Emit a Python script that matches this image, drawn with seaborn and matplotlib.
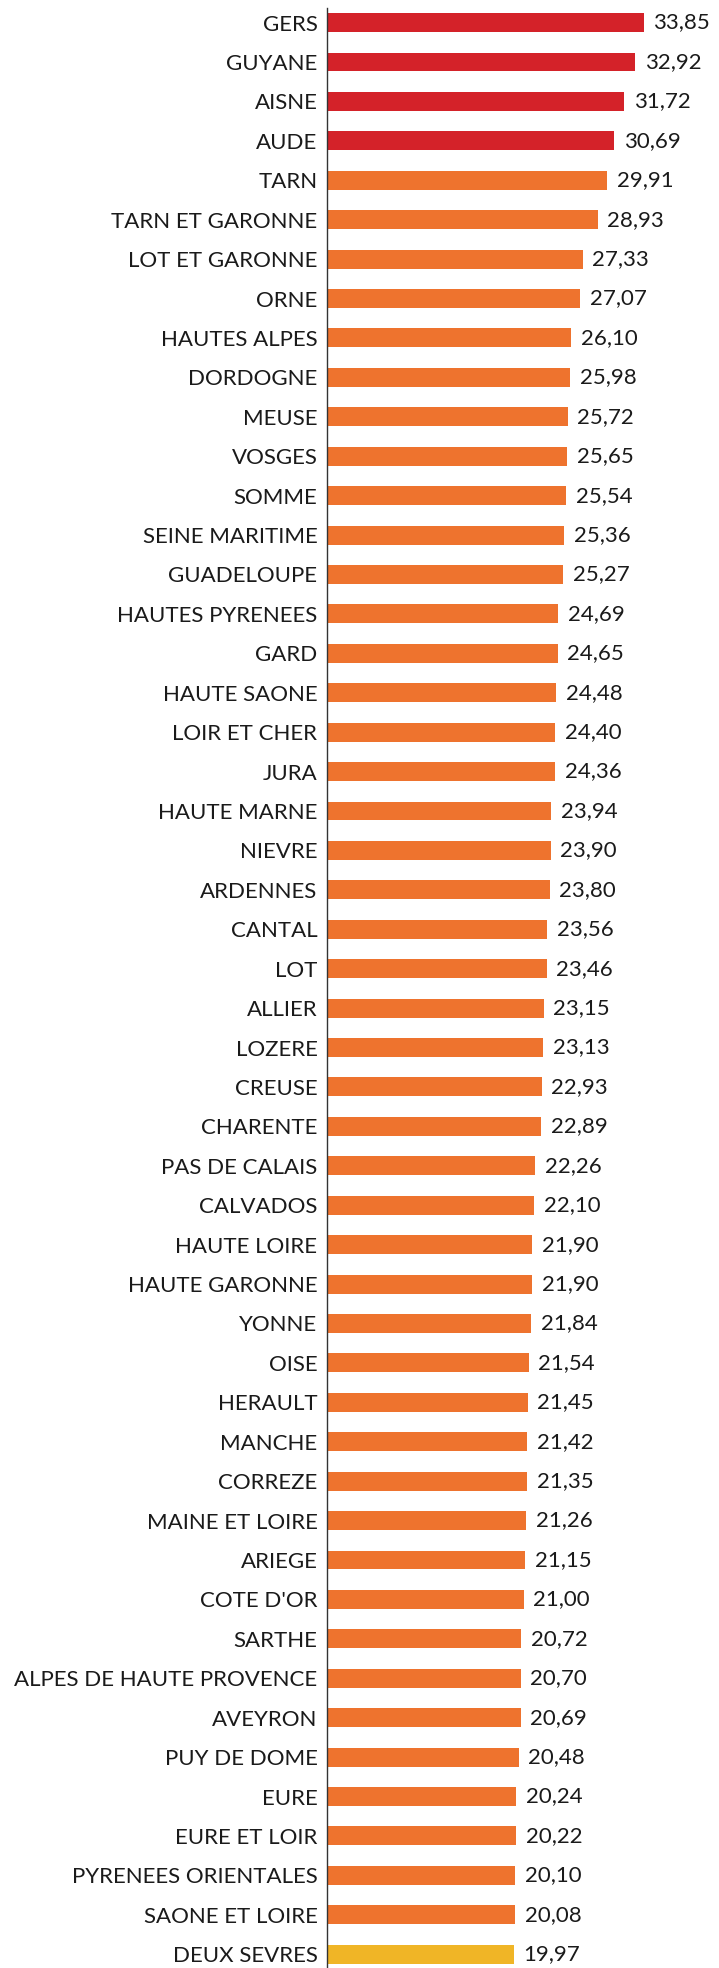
import pandas as pd
import seaborn as sns
import matplotlib.pyplot as plt

departements = ['GERS', 'GUYANE', 'AISNE', 'AUDE', 'TARN', 'TARN ET GARONNE',
                'LOT ET GARONNE', 'ORNE', 'HAUTES ALPES', 'DORDOGNE', 'MEUSE',
                'VOSGES', 'SOMME', 'SEINE MARITIME', 'GUADELOUPE', 'HAUTES PYRENEES',
                'GARD', 'HAUTE SAONE', 'LOIR ET CHER', 'JURA', 'HAUTE MARNE', 'NIEVRE',
                'ARDENNES', 'CANTAL', 'LOT', 'ALLIER', 'LOZERE', 'CREUSE', 'CHARENTE',
                'PAS DE CALAIS', 'CALVADOS', 'HAUTE LOIRE', 'HAUTE GARONNE', 'YONNE',
                'OISE', 'HERAULT', 'MANCHE', 'CORREZE', 'MAINE ET LOIRE', 'ARIEGE',
                "COTE D'OR", 'SARTHE', 'ALPES DE HAUTE PROVENCE', 'AVEYRON',
                'PUY DE DOME', 'EURE', 'EURE ET LOIR', 'PYRENEES ORIENTALES',
                'SAONE ET LOIRE', 'DEUX SEVRES']
valeurs = [33.85, 32.92, 31.72, 30.69, 29.91, 28.93, 27.33, 27.07, 26.10, 25.98,
           25.72, 25.65, 25.54, 25.36, 25.27, 24.69, 24.65, 24.48, 24.40, 24.36,
           23.94, 23.90, 23.80, 23.56, 23.46, 23.15, 23.13, 22.93, 22.89, 22.26,
           22.10, 21.90, 21.90, 21.84, 21.54, 21.45, 21.42, 21.35, 21.26, 21.15,
           21.00, 20.72, 20.70, 20.69, 20.48, 20.24, 20.22, 20.10, 20.08, 19.97]

data = pd.DataFrame({'departement': departements, 'valeur': valeurs})
data['groupe'] = ['haut' if v >= 30 else ('bas' if v < 20 else 'milieu') for v in data['valeur']]

couleurs = {'haut': '#D42229', 'milieu': '#EE732E', 'bas': '#F0B526'}

plt.rcParams['font.family'] = ['Lato', 'DejaVu Sans']

fig = plt.figure(figsize=(7.19, 19.68), dpi=100)
ax = fig.add_axes([0.455, 0.0, 0.545, 1960 / 1968])

sns.barplot(x='valeur', y='departement', data=data, hue='groupe', palette=couleurs,
            saturation=1, dodge=False, legend=False, width=0.48, ax=ax)

for container in ax.containers:
    ax.bar_label(container, labels=[f'{v:.2f}'.replace('.', ',') for v in container.datavalues],
                 padding=7, fontsize=16, color='#1a1a1a')  # virgule decimale

ax.set_xlim(0, 41.9)
ax.set_ylim(49.35, -0.37)
ax.set_xlabel('')
ax.set_ylabel('')
ax.xaxis.set_visible(False)
ax.tick_params(axis='y', length=0, pad=7, labelsize=16, labelcolor='#1a1a1a')
for side in ['top', 'right', 'bottom']:
    ax.spines[side].set_visible(False)
ax.spines['left'].set_color('#333333')
ax.spines['left'].set_linewidth(1)

plt.savefig('out.png', dpi=100)
